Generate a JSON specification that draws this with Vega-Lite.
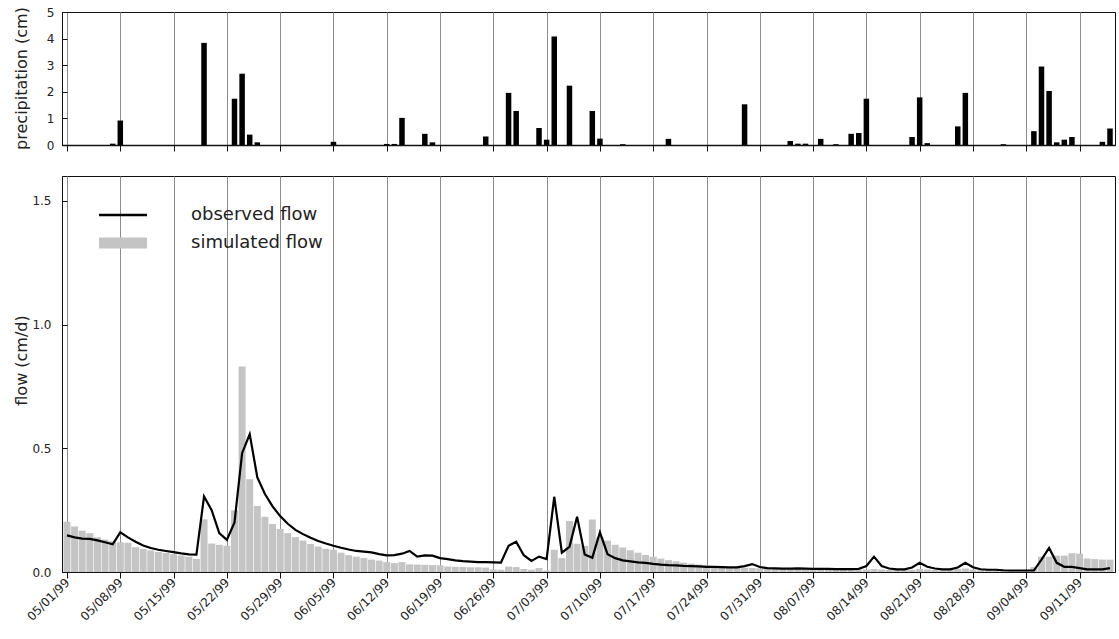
{
  "$schema": "https://vega.github.io/schema/vega-lite/v6.json",
  "padding": {"left": 12, "top": 5, "right": 0, "bottom": 0},
  "background": "white",
  "bounds": "flush",
  "spacing": 31,
  "config": {
    "font": "DejaVu Sans",
    "view": {"stroke": "#111", "strokeWidth": 1},
    "axis": {
      "labelFont": "DejaVu Sans",
      "titleFont": "DejaVu Sans",
      "labelColor": "#222",
      "titleColor": "#222",
      "titleFontWeight": "normal",
      "domainColor": "#111",
      "tickColor": "#111",
      "gridColor": "#8c8c8c",
      "gridOpacity": 1
    }
  },
  "datasets": {
    "precip": [
      {"date": "1999-05-07T00:00", "precipitation": 0.05},
      {"date": "1999-05-08T00:00", "precipitation": 0.92},
      {"date": "1999-05-19T00:00", "precipitation": 3.84},
      {"date": "1999-05-23T00:00", "precipitation": 1.74},
      {"date": "1999-05-24T00:00", "precipitation": 2.68},
      {"date": "1999-05-25T00:00", "precipitation": 0.39},
      {"date": "1999-05-26T00:00", "precipitation": 0.1},
      {"date": "1999-06-05T00:00", "precipitation": 0.12},
      {"date": "1999-06-12T00:00", "precipitation": 0.04},
      {"date": "1999-06-13T00:00", "precipitation": 0.04},
      {"date": "1999-06-14T00:00", "precipitation": 1.02},
      {"date": "1999-06-17T00:00", "precipitation": 0.42},
      {"date": "1999-06-18T00:00", "precipitation": 0.1},
      {"date": "1999-06-25T00:00", "precipitation": 0.32},
      {"date": "1999-06-28T00:00", "precipitation": 1.96},
      {"date": "1999-06-29T00:00", "precipitation": 1.28},
      {"date": "1999-07-02T00:00", "precipitation": 0.64},
      {"date": "1999-07-03T00:00", "precipitation": 0.2},
      {"date": "1999-07-04T00:00", "precipitation": 4.08},
      {"date": "1999-07-06T00:00", "precipitation": 2.23},
      {"date": "1999-07-09T00:00", "precipitation": 1.28},
      {"date": "1999-07-10T00:00", "precipitation": 0.24},
      {"date": "1999-07-13T00:00", "precipitation": 0.03},
      {"date": "1999-07-19T00:00", "precipitation": 0.23},
      {"date": "1999-07-29T00:00", "precipitation": 1.53},
      {"date": "1999-08-04T00:00", "precipitation": 0.15},
      {"date": "1999-08-05T00:00", "precipitation": 0.05},
      {"date": "1999-08-06T00:00", "precipitation": 0.05},
      {"date": "1999-08-08T00:00", "precipitation": 0.23},
      {"date": "1999-08-10T00:00", "precipitation": 0.03},
      {"date": "1999-08-12T00:00", "precipitation": 0.42},
      {"date": "1999-08-13T00:00", "precipitation": 0.45},
      {"date": "1999-08-14T00:00", "precipitation": 1.74},
      {"date": "1999-08-20T00:00", "precipitation": 0.3},
      {"date": "1999-08-21T00:00", "precipitation": 1.79},
      {"date": "1999-08-22T00:00", "precipitation": 0.07},
      {"date": "1999-08-26T00:00", "precipitation": 0.7},
      {"date": "1999-08-27T00:00", "precipitation": 1.96},
      {"date": "1999-09-01T00:00", "precipitation": 0.03},
      {"date": "1999-09-05T00:00", "precipitation": 0.52},
      {"date": "1999-09-06T00:00", "precipitation": 2.95},
      {"date": "1999-09-07T00:00", "precipitation": 2.03},
      {"date": "1999-09-08T00:00", "precipitation": 0.1},
      {"date": "1999-09-09T00:00", "precipitation": 0.2},
      {"date": "1999-09-10T00:00", "precipitation": 0.3},
      {"date": "1999-09-14T00:00", "precipitation": 0.12},
      {"date": "1999-09-15T00:00", "precipitation": 0.62}
    ],
    "flow": [
      {"date": "1999-05-01T00:00", "observed": 0.148, "simulated": 0.203},
      {"date": "1999-05-02T00:00", "observed": 0.14, "simulated": 0.184},
      {"date": "1999-05-03T00:00", "observed": 0.135, "simulated": 0.167},
      {"date": "1999-05-04T00:00", "observed": 0.134, "simulated": 0.157},
      {"date": "1999-05-05T00:00", "observed": 0.128, "simulated": 0.14},
      {"date": "1999-05-06T00:00", "observed": 0.12, "simulated": 0.131},
      {"date": "1999-05-07T00:00", "observed": 0.112, "simulated": 0.125},
      {"date": "1999-05-08T00:00", "observed": 0.16, "simulated": 0.12},
      {"date": "1999-05-09T00:00", "observed": 0.14, "simulated": 0.118},
      {"date": "1999-05-10T00:00", "observed": 0.122, "simulated": 0.1},
      {"date": "1999-05-11T00:00", "observed": 0.107, "simulated": 0.093},
      {"date": "1999-05-12T00:00", "observed": 0.097, "simulated": 0.087},
      {"date": "1999-05-13T00:00", "observed": 0.09, "simulated": 0.081},
      {"date": "1999-05-14T00:00", "observed": 0.085, "simulated": 0.077},
      {"date": "1999-05-15T00:00", "observed": 0.08, "simulated": 0.072},
      {"date": "1999-05-16T00:00", "observed": 0.075, "simulated": 0.067},
      {"date": "1999-05-17T00:00", "observed": 0.071, "simulated": 0.062},
      {"date": "1999-05-18T00:00", "observed": 0.07, "simulated": 0.053},
      {"date": "1999-05-19T00:00", "observed": 0.305, "simulated": 0.213},
      {"date": "1999-05-20T00:00", "observed": 0.25, "simulated": 0.115},
      {"date": "1999-05-21T00:00", "observed": 0.157, "simulated": 0.11},
      {"date": "1999-05-22T00:00", "observed": 0.13, "simulated": 0.106},
      {"date": "1999-05-23T00:00", "observed": 0.2, "simulated": 0.249},
      {"date": "1999-05-24T00:00", "observed": 0.48, "simulated": 0.83},
      {"date": "1999-05-25T00:00", "observed": 0.557, "simulated": 0.375},
      {"date": "1999-05-26T00:00", "observed": 0.382, "simulated": 0.267},
      {"date": "1999-05-27T00:00", "observed": 0.315, "simulated": 0.223},
      {"date": "1999-05-28T00:00", "observed": 0.265, "simulated": 0.194},
      {"date": "1999-05-29T00:00", "observed": 0.226, "simulated": 0.174},
      {"date": "1999-05-30T00:00", "observed": 0.195, "simulated": 0.157},
      {"date": "1999-05-31T00:00", "observed": 0.17, "simulated": 0.141},
      {"date": "1999-06-01T00:00", "observed": 0.153, "simulated": 0.127},
      {"date": "1999-06-02T00:00", "observed": 0.138, "simulated": 0.113},
      {"date": "1999-06-03T00:00", "observed": 0.125, "simulated": 0.103},
      {"date": "1999-06-04T00:00", "observed": 0.115, "simulated": 0.094},
      {"date": "1999-06-05T00:00", "observed": 0.106, "simulated": 0.09},
      {"date": "1999-06-06T00:00", "observed": 0.098, "simulated": 0.078},
      {"date": "1999-06-07T00:00", "observed": 0.091, "simulated": 0.068},
      {"date": "1999-06-08T00:00", "observed": 0.085, "simulated": 0.062},
      {"date": "1999-06-09T00:00", "observed": 0.082, "simulated": 0.057},
      {"date": "1999-06-10T00:00", "observed": 0.079, "simulated": 0.05},
      {"date": "1999-06-11T00:00", "observed": 0.072, "simulated": 0.046},
      {"date": "1999-06-12T00:00", "observed": 0.067, "simulated": 0.04},
      {"date": "1999-06-13T00:00", "observed": 0.068, "simulated": 0.036},
      {"date": "1999-06-14T00:00", "observed": 0.074, "simulated": 0.04},
      {"date": "1999-06-15T00:00", "observed": 0.085, "simulated": 0.031},
      {"date": "1999-06-16T00:00", "observed": 0.062, "simulated": 0.03},
      {"date": "1999-06-17T00:00", "observed": 0.067, "simulated": 0.029},
      {"date": "1999-06-18T00:00", "observed": 0.066, "simulated": 0.028},
      {"date": "1999-06-19T00:00", "observed": 0.056, "simulated": 0.027},
      {"date": "1999-06-20T00:00", "observed": 0.052, "simulated": 0.022},
      {"date": "1999-06-21T00:00", "observed": 0.047, "simulated": 0.021},
      {"date": "1999-06-22T00:00", "observed": 0.044, "simulated": 0.02},
      {"date": "1999-06-23T00:00", "observed": 0.042, "simulated": 0.019},
      {"date": "1999-06-24T00:00", "observed": 0.04, "simulated": 0.019},
      {"date": "1999-06-25T00:00", "observed": 0.04, "simulated": 0.018},
      {"date": "1999-06-26T00:00", "observed": 0.039, "simulated": 0.01},
      {"date": "1999-06-27T00:00", "observed": 0.038, "simulated": 0.009},
      {"date": "1999-06-28T00:00", "observed": 0.106, "simulated": 0.022},
      {"date": "1999-06-29T00:00", "observed": 0.122, "simulated": 0.02},
      {"date": "1999-06-30T00:00", "observed": 0.068, "simulated": 0.012},
      {"date": "1999-07-01T00:00", "observed": 0.045, "simulated": 0.009},
      {"date": "1999-07-02T00:00", "observed": 0.062, "simulated": 0.016},
      {"date": "1999-07-03T00:00", "observed": 0.052, "simulated": 0.006},
      {"date": "1999-07-04T00:00", "observed": 0.304, "simulated": 0.09},
      {"date": "1999-07-05T00:00", "observed": 0.078, "simulated": 0.056},
      {"date": "1999-07-06T00:00", "observed": 0.102, "simulated": 0.206},
      {"date": "1999-07-07T00:00", "observed": 0.223, "simulated": 0.114},
      {"date": "1999-07-08T00:00", "observed": 0.071, "simulated": 0.106},
      {"date": "1999-07-09T00:00", "observed": 0.058, "simulated": 0.212},
      {"date": "1999-07-10T00:00", "observed": 0.16, "simulated": 0.14},
      {"date": "1999-07-11T00:00", "observed": 0.072, "simulated": 0.127},
      {"date": "1999-07-12T00:00", "observed": 0.056, "simulated": 0.11},
      {"date": "1999-07-13T00:00", "observed": 0.047, "simulated": 0.099},
      {"date": "1999-07-14T00:00", "observed": 0.043, "simulated": 0.088},
      {"date": "1999-07-15T00:00", "observed": 0.039, "simulated": 0.078},
      {"date": "1999-07-16T00:00", "observed": 0.037, "simulated": 0.069},
      {"date": "1999-07-17T00:00", "observed": 0.033, "simulated": 0.062},
      {"date": "1999-07-18T00:00", "observed": 0.03, "simulated": 0.054},
      {"date": "1999-07-19T00:00", "observed": 0.028, "simulated": 0.048},
      {"date": "1999-07-20T00:00", "observed": 0.027, "simulated": 0.043},
      {"date": "1999-07-21T00:00", "observed": 0.025, "simulated": 0.038},
      {"date": "1999-07-22T00:00", "observed": 0.024, "simulated": 0.034},
      {"date": "1999-07-23T00:00", "observed": 0.023, "simulated": 0.03},
      {"date": "1999-07-24T00:00", "observed": 0.021, "simulated": 0.027},
      {"date": "1999-07-25T00:00", "observed": 0.021, "simulated": 0.024},
      {"date": "1999-07-26T00:00", "observed": 0.02, "simulated": 0.021},
      {"date": "1999-07-27T00:00", "observed": 0.019, "simulated": 0.02},
      {"date": "1999-07-28T00:00", "observed": 0.019, "simulated": 0.018},
      {"date": "1999-07-29T00:00", "observed": 0.024, "simulated": 0.017},
      {"date": "1999-07-30T00:00", "observed": 0.032, "simulated": 0.016},
      {"date": "1999-07-31T00:00", "observed": 0.02, "simulated": 0.015},
      {"date": "1999-08-01T00:00", "observed": 0.016, "simulated": 0.014},
      {"date": "1999-08-02T00:00", "observed": 0.015, "simulated": 0.013},
      {"date": "1999-08-03T00:00", "observed": 0.014, "simulated": 0.012},
      {"date": "1999-08-04T00:00", "observed": 0.014, "simulated": 0.012},
      {"date": "1999-08-05T00:00", "observed": 0.015, "simulated": 0.012},
      {"date": "1999-08-06T00:00", "observed": 0.014, "simulated": 0.011},
      {"date": "1999-08-07T00:00", "observed": 0.013, "simulated": 0.01},
      {"date": "1999-08-08T00:00", "observed": 0.013, "simulated": 0.01},
      {"date": "1999-08-09T00:00", "observed": 0.013, "simulated": 0.01},
      {"date": "1999-08-10T00:00", "observed": 0.012, "simulated": 0.009},
      {"date": "1999-08-11T00:00", "observed": 0.012, "simulated": 0.009},
      {"date": "1999-08-12T00:00", "observed": 0.012, "simulated": 0.009},
      {"date": "1999-08-13T00:00", "observed": 0.013, "simulated": 0.009},
      {"date": "1999-08-14T00:00", "observed": 0.024, "simulated": 0.01},
      {"date": "1999-08-15T00:00", "observed": 0.062, "simulated": 0.012},
      {"date": "1999-08-16T00:00", "observed": 0.024, "simulated": 0.01},
      {"date": "1999-08-17T00:00", "observed": 0.014, "simulated": 0.009},
      {"date": "1999-08-18T00:00", "observed": 0.011, "simulated": 0.008},
      {"date": "1999-08-19T00:00", "observed": 0.011, "simulated": 0.008},
      {"date": "1999-08-20T00:00", "observed": 0.018, "simulated": 0.009},
      {"date": "1999-08-21T00:00", "observed": 0.037, "simulated": 0.012},
      {"date": "1999-08-22T00:00", "observed": 0.021, "simulated": 0.01},
      {"date": "1999-08-23T00:00", "observed": 0.014, "simulated": 0.008},
      {"date": "1999-08-24T00:00", "observed": 0.011, "simulated": 0.007},
      {"date": "1999-08-25T00:00", "observed": 0.011, "simulated": 0.008},
      {"date": "1999-08-26T00:00", "observed": 0.018, "simulated": 0.012},
      {"date": "1999-08-27T00:00", "observed": 0.037, "simulated": 0.014},
      {"date": "1999-08-28T00:00", "observed": 0.019, "simulated": 0.01},
      {"date": "1999-08-29T00:00", "observed": 0.011, "simulated": 0.007},
      {"date": "1999-08-30T00:00", "observed": 0.009, "simulated": 0.006},
      {"date": "1999-08-31T00:00", "observed": 0.009, "simulated": 0.005},
      {"date": "1999-09-01T00:00", "observed": 0.007, "simulated": 0.004},
      {"date": "1999-09-02T00:00", "observed": 0.006, "simulated": 0.004},
      {"date": "1999-09-03T00:00", "observed": 0.006, "simulated": 0.003},
      {"date": "1999-09-04T00:00", "observed": 0.006, "simulated": 0.003},
      {"date": "1999-09-05T00:00", "observed": 0.006, "simulated": 0.02},
      {"date": "1999-09-06T00:00", "observed": 0.05, "simulated": 0.062},
      {"date": "1999-09-07T00:00", "observed": 0.097, "simulated": 0.062},
      {"date": "1999-09-08T00:00", "observed": 0.037, "simulated": 0.066},
      {"date": "1999-09-09T00:00", "observed": 0.021, "simulated": 0.066},
      {"date": "1999-09-10T00:00", "observed": 0.021, "simulated": 0.076},
      {"date": "1999-09-11T00:00", "observed": 0.016, "simulated": 0.074},
      {"date": "1999-09-12T00:00", "observed": 0.011, "simulated": 0.055},
      {"date": "1999-09-13T00:00", "observed": 0.011, "simulated": 0.052},
      {"date": "1999-09-14T00:00", "observed": 0.011, "simulated": 0.05},
      {"date": "1999-09-15T00:00", "observed": 0.016, "simulated": 0.05}
    ]
  },
  "vconcat": [
    {
      "width": 1053,
      "height": 133,
      "data": {"name": "precip"},
      "mark": {"type": "bar", "color": "black", "size": 5.5, "clip": true},
      "encoding": {
        "x": {
          "field": "date",
          "type": "temporal",
          "scale": {"domain": [{"year": 1999, "month": 5, "date": 1}, {"year": 1999, "month": 9, "date": 15}]},
          "axis": {
            "title": null,
            "labels": false,
            "ticks": true,
            "tickSize": 6,
            "grid": true,
            "domainWidth": 1.5,
            "values": [
              {"year": 1999, "month": 5, "date": 1}, {"year": 1999, "month": 5, "date": 8},
              {"year": 1999, "month": 5, "date": 15}, {"year": 1999, "month": 5, "date": 22},
              {"year": 1999, "month": 5, "date": 29}, {"year": 1999, "month": 6, "date": 5},
              {"year": 1999, "month": 6, "date": 12}, {"year": 1999, "month": 6, "date": 19},
              {"year": 1999, "month": 6, "date": 26}, {"year": 1999, "month": 7, "date": 3},
              {"year": 1999, "month": 7, "date": 10}, {"year": 1999, "month": 7, "date": 17},
              {"year": 1999, "month": 7, "date": 24}, {"year": 1999, "month": 7, "date": 31},
              {"year": 1999, "month": 8, "date": 7}, {"year": 1999, "month": 8, "date": 14},
              {"year": 1999, "month": 8, "date": 21}, {"year": 1999, "month": 8, "date": 28},
              {"year": 1999, "month": 9, "date": 4}, {"year": 1999, "month": 9, "date": 11}
            ]
          }
        },
        "y": {
          "field": "precipitation",
          "type": "quantitative",
          "scale": {"domain": [0, 5]},
          "axis": {
            "title": "precipitation (cm)",
            "titleFontSize": 16,
            "titleX": -33,
            "titleY": 66,
            "titleBaseline": "bottom",
            "titleAlign": "center",
            "values": [0, 1, 2, 3, 4, 5],
            "labelFontSize": 12,
            "tickSize": -5,
            "labelPadding": 13,
            "grid": false
          }
        }
      }
    },
    {
      "width": 1053,
      "height": 396,
      "data": {"name": "flow"},
      "encoding": {
        "x": {
          "field": "date",
          "type": "temporal",
          "scale": {"domain": [{"year": 1999, "month": 5, "date": 1}, {"year": 1999, "month": 9, "date": 15}]},
          "axis": {
            "title": null,
            "format": "%m/%d/%y",
            "labelAngle": -45,
            "labelAlign": "right",
            "labelBaseline": "middle",
            "labelFontSize": 12,
            "tickSize": 6,
            "grid": true,
            "values": [
              {"year": 1999, "month": 5, "date": 1}, {"year": 1999, "month": 5, "date": 8},
              {"year": 1999, "month": 5, "date": 15}, {"year": 1999, "month": 5, "date": 22},
              {"year": 1999, "month": 5, "date": 29}, {"year": 1999, "month": 6, "date": 5},
              {"year": 1999, "month": 6, "date": 12}, {"year": 1999, "month": 6, "date": 19},
              {"year": 1999, "month": 6, "date": 26}, {"year": 1999, "month": 7, "date": 3},
              {"year": 1999, "month": 7, "date": 10}, {"year": 1999, "month": 7, "date": 17},
              {"year": 1999, "month": 7, "date": 24}, {"year": 1999, "month": 7, "date": 31},
              {"year": 1999, "month": 8, "date": 7}, {"year": 1999, "month": 8, "date": 14},
              {"year": 1999, "month": 8, "date": 21}, {"year": 1999, "month": 8, "date": 28},
              {"year": 1999, "month": 9, "date": 4}, {"year": 1999, "month": 9, "date": 11}
            ]
          }
        }
      },
      "layer": [
        {
          "mark": {"type": "bar", "size": 7, "clip": true},
          "encoding": {
            "y": {
              "field": "simulated",
              "type": "quantitative",
              "scale": {"domain": [0, 1.5]},
              "axis": {
                "title": "flow (cm/d)",
                "titleFontSize": 16,
                "titleX": -33,
                "titleY": 184,
                "titleBaseline": "bottom",
                "titleAlign": "center",
                "values": [0, 0.5, 1, 1.5],
                "format": ".1f",
                "labelFontSize": 12,
                "tickSize": -5,
                "labelPadding": 16,
                "grid": false
              }
            },
            "color": {
              "datum": "simulated flow",
              "type": "nominal",
              "scale": {"domain": ["observed flow", "simulated flow"], "range": ["black", "#c4c4c4"]},
              "legend": {
                "orient": "none",
                "legendX": 52,
                "legendY": 194,
                "title": null,
                "padding": 0,
                "symbolType": "stroke",
                "symbolSize": 2304,
                "symbolStrokeWidth": 2.5,
                "labelFont": "DejaVu Sans",
                "labelFontSize": 18,
                "labelColor": "#222",
                "labelOffset": 59,
                "rowPadding": -3,
                "encode": {
                  "symbols": {
                    "update": {
                      "strokeWidth": {"signal": "datum.value === 'simulated flow' ? 11 : 2.5"},
                      "stroke": {"signal": "datum.value === 'simulated flow' ? '#9a9a9a' : '#000000'"}
                    }
                  }
                }
              }
            }
          }
        },
        {
          "mark": {"type": "line", "strokeWidth": 2.2, "clip": true},
          "encoding": {
            "y": {"field": "observed", "type": "quantitative"},
            "color": {"datum": "observed flow", "type": "nominal"}
          }
        }
      ]
    }
  ]
}
